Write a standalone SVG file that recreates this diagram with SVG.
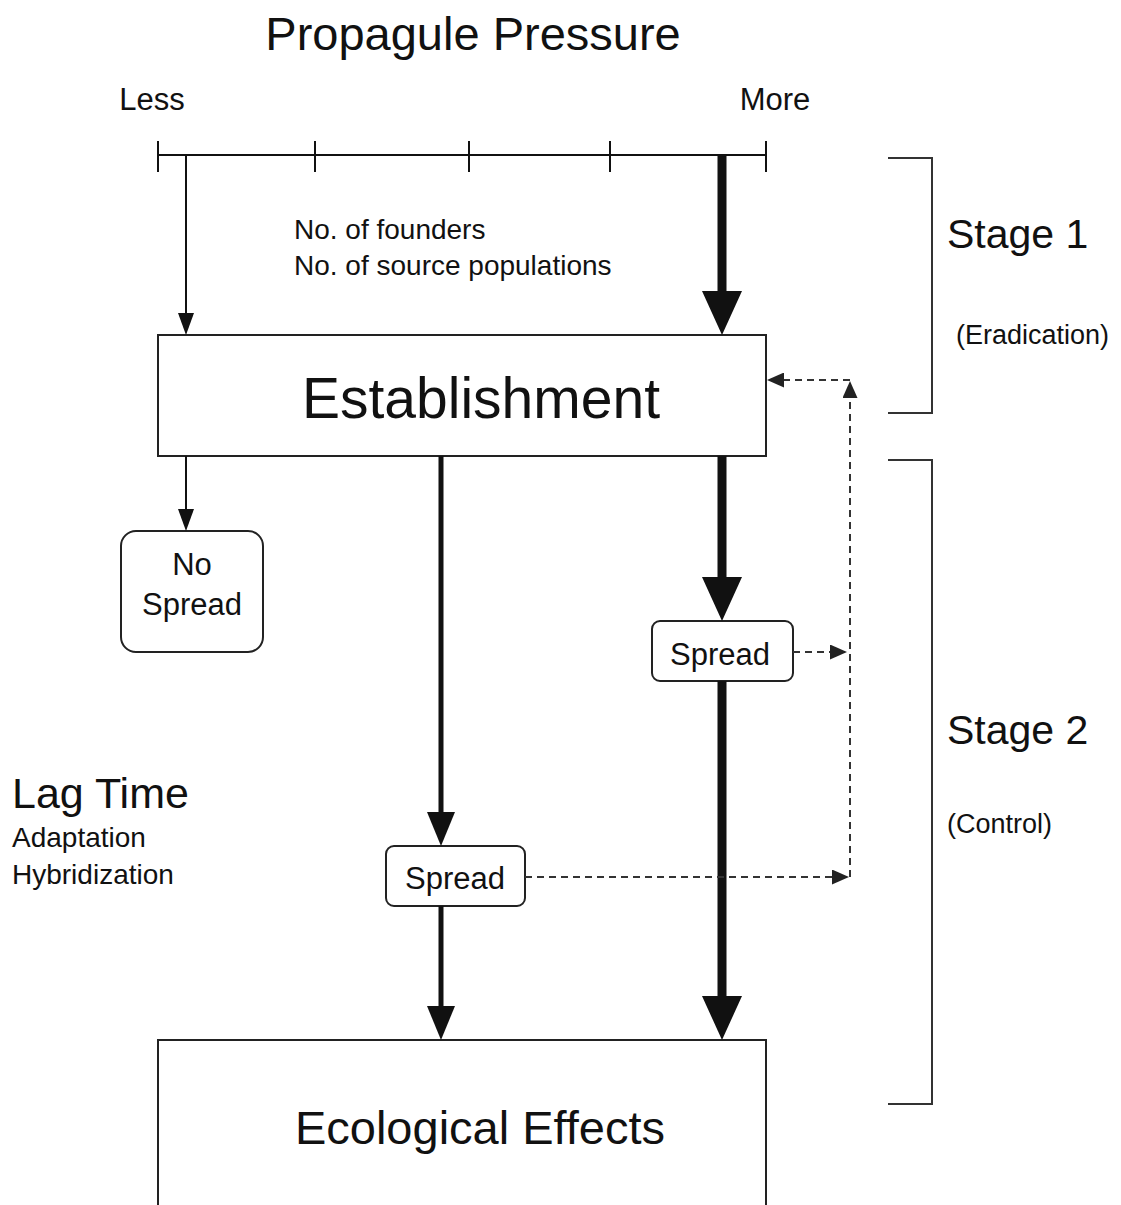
<svg xmlns="http://www.w3.org/2000/svg" width="1121" height="1205" viewBox="0 0 1121 1205">
<style>
  text { font-family: "Liberation Sans", Arial, sans-serif; fill: #111; }
  .box { fill: #fff; stroke: #222; stroke-width: 2; }
  .ln { stroke: #111; fill: none; }
  .dash { stroke: #333; stroke-width: 2; stroke-dasharray: 7 5; fill: none; }
  .brk { stroke: #333; stroke-width: 2; fill: none; }
</style>
<defs>
  <marker id="aThin" markerUnits="userSpaceOnUse" viewBox="0 0 22 16" markerWidth="22" markerHeight="16" refX="12" refY="8" orient="auto"><path d="M0,0 L22,8 L0,16 z" fill="#111"/></marker>
  <marker id="aMed" markerUnits="userSpaceOnUse" viewBox="0 0 34 28" markerWidth="34" markerHeight="28" refX="14" refY="14" orient="auto"><path d="M0,0 L34,14 L0,28 z" fill="#111"/></marker>
  <marker id="aThick" markerUnits="userSpaceOnUse" viewBox="0 0 44 40" markerWidth="44" markerHeight="40" refX="19" refY="20" orient="auto"><path d="M0,0 L44,20 L0,40 z" fill="#111"/></marker>
  <marker id="aDash" markerUnits="userSpaceOnUse" viewBox="0 0 17 15" markerWidth="17" markerHeight="15" refX="9" refY="7.5" orient="auto"><path d="M0,0 L17,7.5 L0,15 z" fill="#222"/></marker>
</defs>
<rect width="1121" height="1205" fill="#fff"/>

<g id="title">
  <text x="473" y="50" font-size="47" text-anchor="middle">Propagule Pressure</text>
  <text x="152" y="110" font-size="31" text-anchor="middle">Less</text>
  <text x="775" y="110" font-size="31" text-anchor="middle">More</text>
</g>

<g id="axis" class="ln" stroke-width="2">
  <line x1="158" y1="155" x2="766" y2="155"/>
  <line x1="158" y1="141" x2="158" y2="172"/>
  <line x1="315" y1="141" x2="315" y2="172"/>
  <line x1="469" y1="141" x2="469" y2="172"/>
  <line x1="610" y1="141" x2="610" y2="172"/>
  <line x1="766" y1="141" x2="766" y2="172"/>
</g>

<g id="founders-label">
  <text x="294" y="239" font-size="28">No. of founders</text>
  <text x="294" y="275" font-size="28">No. of source populations</text>
</g>

<g id="establishment">
  <rect class="box" x="158" y="335" width="608" height="121"/>
  <text x="481" y="418" font-size="57" text-anchor="middle">Establishment</text>
</g>

<g id="no-spread">
  <rect class="box" x="121" y="531" width="142" height="121" rx="15"/>
  <text x="192" y="575" font-size="31" text-anchor="middle">No</text>
  <text x="192" y="615" font-size="31" text-anchor="middle">Spread</text>
</g>

<g id="spread-right">
  <rect class="box" x="652" y="621" width="141" height="60" rx="8"/>
  <text x="720" y="665" font-size="31" text-anchor="middle">Spread</text>
</g>

<g id="spread-middle">
  <rect class="box" x="386" y="846" width="139" height="60" rx="8"/>
  <text x="455" y="889" font-size="31" text-anchor="middle">Spread</text>
</g>

<g id="ecological-effects">
  <rect class="box" x="158" y="1040" width="608" height="175"/>
  <text x="480" y="1144" font-size="47" text-anchor="middle">Ecological Effects</text>
</g>

<g id="stage1">
  <path class="brk" d="M888,158 H932 V413 H888"/>
  <text x="947" y="248" font-size="41">Stage 1</text>
  <text x="956" y="344" font-size="27">(Eradication)</text>
</g>

<g id="stage2">
  <path class="brk" d="M888,460 H932 V1104 H888"/>
  <text x="947" y="744" font-size="41">Stage 2</text>
  <text x="947" y="833" font-size="27">(Control)</text>
</g>

<g id="lag-time">
  <text x="12" y="808" font-size="43">Lag Time</text>
  <text x="12" y="847" font-size="28">Adaptation</text>
  <text x="12" y="884" font-size="28">Hybridization</text>
</g>

<g id="connectors">
  <line class="ln" stroke-width="2" x1="186" y1="155" x2="186" y2="325" marker-end="url(#aThin)"/>
  <line class="ln" stroke-width="9" x1="722" y1="155" x2="722" y2="310" marker-end="url(#aThick)"/>
  <line class="ln" stroke-width="2" x1="186" y1="456" x2="186" y2="521" marker-end="url(#aThin)"/>
  <line class="ln" stroke-width="5" x1="441" y1="456" x2="441" y2="826" marker-end="url(#aMed)"/>
  <line class="ln" stroke-width="9" x1="722" y1="456" x2="722" y2="596" marker-end="url(#aThick)"/>
  <line class="ln" stroke-width="9" x1="722" y1="681" x2="722" y2="1015" marker-end="url(#aThick)"/>
  <line class="ln" stroke-width="5" x1="441" y1="906" x2="441" y2="1020" marker-end="url(#aMed)"/>
  <line class="dash" x1="525" y1="877" x2="841" y2="877" marker-end="url(#aDash)"/>
  <line class="dash" x1="793" y1="652" x2="839" y2="652" marker-end="url(#aDash)"/>
  <line class="dash" x1="850" y1="877" x2="850" y2="389" marker-end="url(#aDash)"/>
  <line class="dash" x1="850" y1="380" x2="775" y2="380" marker-end="url(#aDash)"/>
</g>
</svg>
